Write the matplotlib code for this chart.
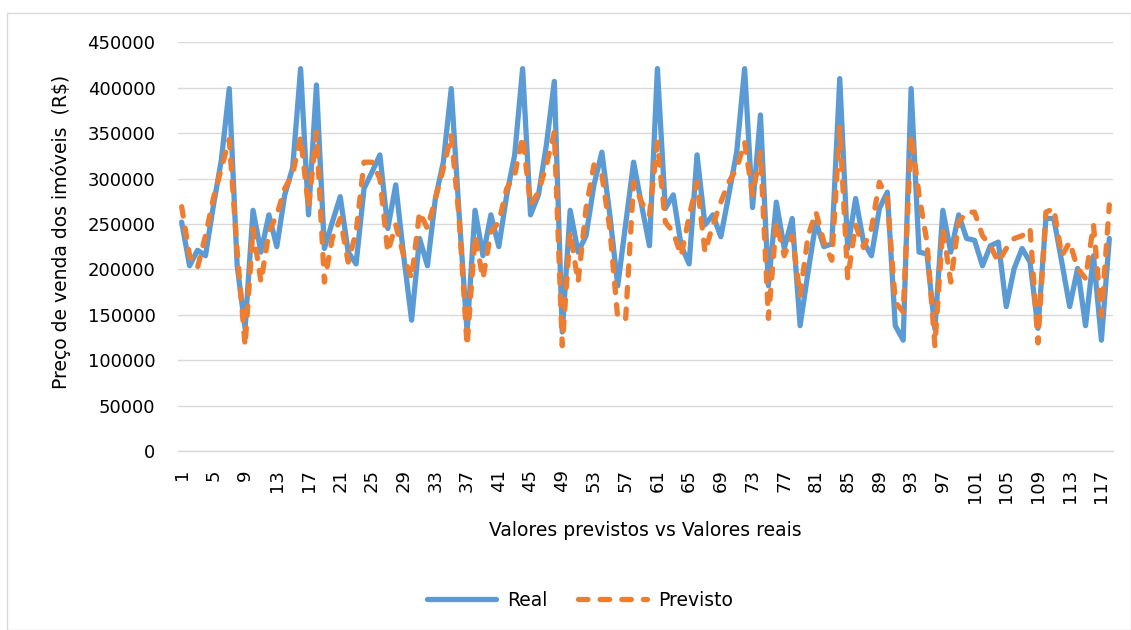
import matplotlib
matplotlib.use("Agg")
import matplotlib.pyplot as plt
from matplotlib.patches import Rectangle
import numpy as np

plt.rcParams['font.family'] = ['DejaVu Sans']

# Values in thousands of R$
real_k = [252, 204, 221, 215, 270, 320, 399, 204, 135, 265,
          219, 260, 225, 282, 312, 421, 260, 403, 223, 252,
          280, 219, 206, 289, 307, 326, 245, 293, 215, 144,
          234, 204, 278, 318, 399, 260, 131, 265, 215, 260,
          225, 282, 326, 421, 260, 282, 337, 407, 131, 265,
          219, 237, 293, 329, 260, 182, 250, 318, 271, 226,
          421, 267, 282, 226, 206, 326, 249, 260, 236, 282,
          329, 421, 268, 370, 182, 274, 223, 256, 138, 197,
          252, 225, 228, 410, 223, 278, 230, 215, 267, 285,
          138, 122, 399, 219, 217, 134, 265, 219, 260, 234,
          232, 204, 226, 230, 159, 201, 223, 208, 135, 256,
          256, 208, 159, 201, 138, 215, 122, 234]

previsto_k = [269, 215, 202, 237, 278, 311, 343, 220, 116, 245,
              186, 241, 260, 289, 305, 346, 268, 351, 186, 234,
              256, 208, 241, 318, 318, 300, 219, 249, 215, 190,
              263, 245, 278, 311, 348, 256, 116, 237, 190, 241,
              252, 289, 304, 346, 271, 285, 315, 351, 116, 241,
              186, 267, 315, 304, 245, 146, 146, 296, 274, 260,
              340, 252, 241, 215, 258, 296, 219, 249, 274, 296,
              311, 340, 282, 329, 146, 252, 215, 237, 171, 237,
              263, 230, 210, 357, 190, 249, 224, 245, 296, 278,
              164, 153, 348, 282, 230, 116, 245, 186, 252, 263,
              263, 237, 226, 208, 223, 234, 237, 245, 119, 263,
              267, 215, 230, 201, 190, 249, 149, 271]

real = [v * 1000 for v in real_k]
previsto = [v * 1000 for v in previsto_k]
x = list(range(1, len(real) + 1))
xtick_pos = list(range(1, len(real) + 1, 4))
xtick_labels = [str(v) for v in xtick_pos]
ytick_vals = list(range(0, 450001, 50000))

W, H = 1131, 630
fig = plt.figure(figsize=(W / 100, H / 100), dpi=100)

# outer chart border
fig.patches.append(Rectangle((7 / W, 0), 1 - 7 / W - 0.5 / W, 1 - 13 / H,
                             transform=fig.transFigure, fill=False,
                             edgecolor='#D9D9D9', linewidth=1.0))

left, right, top, bottom = 177.7, 1113.3, 42.3, 451.0
ax = fig.add_axes([left / W, 1 - bottom / H, (right - left) / W, (bottom - top) / H])

blue = '#5B9BD5'
orange = '#ED7D31'
lw = 3.8

ax.plot(x, real, color=blue, linewidth=lw, solid_joinstyle='round',
        solid_capstyle='round', label='Real', zorder=3)
ax.plot(x, previsto, color=orange, linewidth=lw, linestyle=(0, (1.8, 2.3)),
        dash_capstyle='round', dash_joinstyle='round', label='Previsto', zorder=4)

ax.set_xlim(0.5, len(real) + 0.5)
ax.set_ylim(0, 450000)
ax.set_yticks(ytick_vals)
ax.set_yticklabels([str(v) for v in ytick_vals])
ax.set_xticks(xtick_pos)
ax.set_xticklabels(xtick_labels, rotation=90)
ax.tick_params(axis='both', length=0, labelsize=13, colors='#000000')
ax.tick_params(axis='y', pad=16)
ax.tick_params(axis='x', pad=13)
ax.grid(axis='y', color='#D9D9D9', linewidth=1.0, zorder=0)
ax.set_axisbelow(True)
for s in ['top', 'right', 'left']:
    ax.spines[s].set_visible(False)
ax.spines['bottom'].set_color('#D9D9D9')
ax.spines['bottom'].set_linewidth(1.0)

fig.text(61 / W, 1 - 232 / H, 'Preço de venda dos imóveis  (R$)', rotation=90,
         ha='center', va='center', fontsize=13.5)
fig.text(645 / W, 1 - 531 / H, 'Valores previstos vs Valores reais',
         ha='center', va='center', fontsize=13.5)

leg = fig.legend(loc='center', bbox_to_anchor=(580 / W, 1 - 600 / H), ncol=2,
                 frameon=False, fontsize=13.5, handlelength=3.7,
                 columnspacing=1.6, handletextpad=0.6)

fig.savefig('out.png', dpi=100)
